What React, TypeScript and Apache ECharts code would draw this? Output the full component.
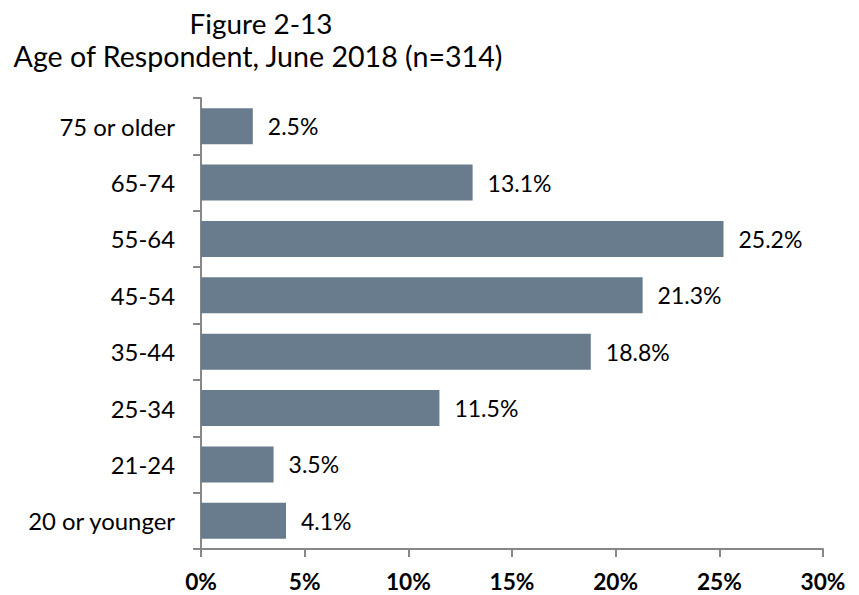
import React, { useEffect, useRef } from "react";
import * as echarts from "echarts";

const categories = ["75 or older", "65-74", "55-64", "45-54", "35-44", "25-34", "21-24", "20 or younger"];
const values = [2.5, 13.1, 25.2, 21.3, 18.8, 11.5, 3.5, 4.1];
const titleLine1 = "Figure 2-13";
const titleLine2 = "Age of Respondent, June 2018 (n=314)";

const FONT = "Lato";

// fit a font size so that a sample text has a target pixel width
function fitSize(text: string, weight: string, targetW: number, fallback: number) {
  try {
    const c = document.createElement("canvas").getContext("2d");
    if (!c) return fallback;
    c.font = `${weight} 100px ${FONT}`;
    const w = c.measureText(text).width;
    if (!w) return fallback;
    return Math.round((100 * targetW) / w * 10) / 10;
  } catch (e) {
    return fallback;
  }
}

export default function App() {
  const ref = useRef<HTMLDivElement>(null);
  useEffect(() => {
    if (!ref.current) return;
    const t1Size = fitSize(titleLine1, "normal", 143, 27);
    const t2Size = fitSize(titleLine2, "normal", 490, 27);
    const catSize = fitSize("20 or younger", "normal", 148, 23);
    const valSize = fitSize("25.2%", "normal", 64, 23);
    const tickSize = fitSize("30%", "bold", 45, 23);

    const chart = echarts.init(ref.current, undefined, { renderer: "svg" });
    chart.setOption({
      animation: false,
      backgroundColor: "#ffffff",
      graphic: [
        {
          type: "text",
          x: 261,
          y: 23,
          style: {
            text: titleLine1,
            fontFamily: FONT,
            fontSize: t1Size,
            fill: "#000",
            textAlign: "center",
            textVerticalAlign: "middle",
          },
        },
        {
          type: "text",
          x: 258,
          y: 56,
          style: {
            text: titleLine2,
            fontFamily: FONT,
            fontSize: t2Size,
            fill: "#000",
            textAlign: "center",
            textVerticalAlign: "middle",
          },
        },
      ],
      grid: { left: 201, right: 36, top: 98, bottom: 46, containLabel: false },
      xAxis: {
        type: "value",
        min: 0,
        max: 30,
        interval: 5,
        axisLine: { show: true, lineStyle: { color: "#878787", width: 2 } },
        axisTick: { show: true, length: 8, lineStyle: { color: "#878787", width: 2 } },
        splitLine: { show: false },
        axisLabel: {
          formatter: "{value}%",
          fontFamily: FONT,
          fontSize: tickSize,
          fontWeight: "bold",
          color: "#000",
          verticalAlign: "middle",
          margin: 32,
        },
      },
      yAxis: {
        type: "category",
        data: categories,
        inverse: true,
        axisLine: { show: true, lineStyle: { color: "#878787", width: 2 } },
        axisTick: { show: true, length: 8, lineStyle: { color: "#878787", width: 2 } },
        axisLabel: { fontFamily: FONT, fontSize: catSize, color: "#000", margin: 26 },
      },
      series: [
        {
          type: "bar",
          data: values,
          barWidth: 36,
          itemStyle: { color: "#687c8d" },
          label: {
            show: true,
            position: "right",
            distance: 15,
            formatter: (p: any) => p.value.toFixed(1) + "%",
            fontFamily: FONT,
            fontSize: valSize,
            color: "#000",
          },
        },
      ],
    });
    return () => chart.dispose();
  }, []);
  return (
    <div
      ref={ref}
      style={{ position: "fixed", left: 0, top: 0, width: 859, height: 595, background: "#fff" }}
    />
  );
}
